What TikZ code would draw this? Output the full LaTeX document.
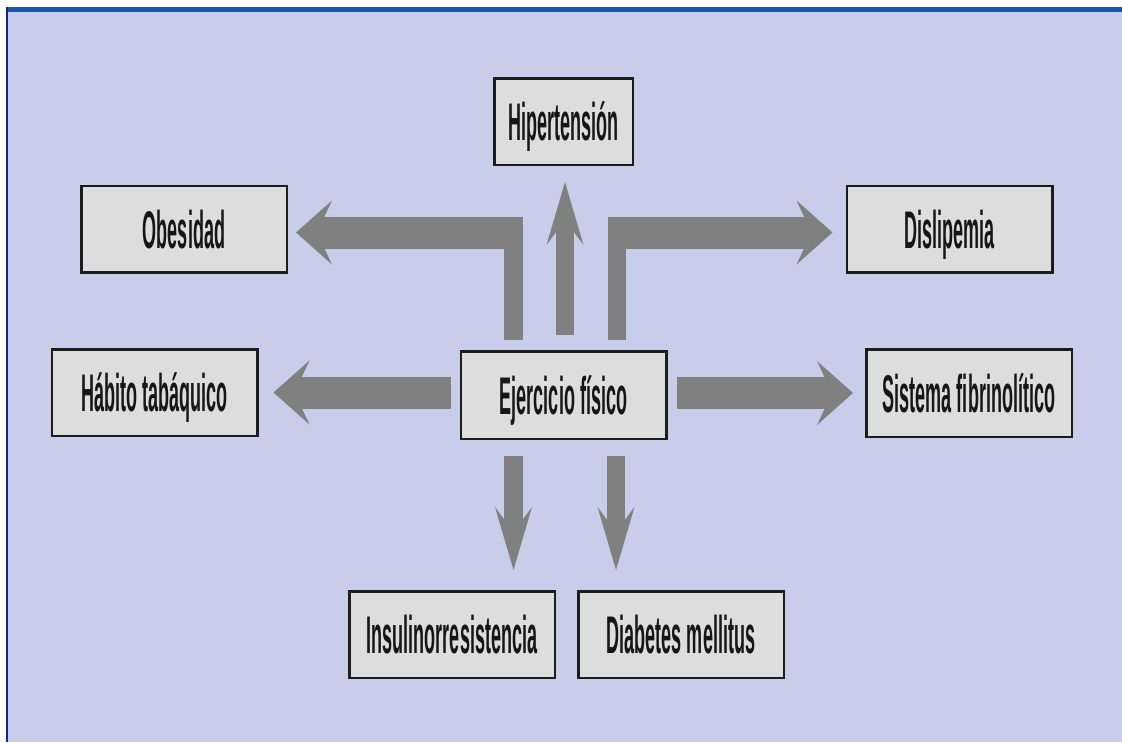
\documentclass[tikz,border=0pt]{standalone}
\usepackage{fontspec}
\usetikzlibrary{arrows.meta}
\newfontfamily\labfont{Liberation Sans}[FakeStretch=0.34]
\definecolor{bgblue}{RGB}{200,206,234}
\definecolor{topblue}{RGB}{30,86,162}
\definecolor{leftblue}{RGB}{14,42,138}
\definecolor{boxfill}{RGB}{221,221,221}
\definecolor{boxline}{RGB}{28,28,28}
\definecolor{arrgray}{RGB}{128,128,128}
\definecolor{txt}{RGB}{22,22,22}
\tikzset{
  box/.style={draw=boxline, line width=2.5pt, fill=boxfill, inner sep=0pt,
    minimum width=205.5pt, minimum height=86.5pt, text=txt,
    font=\labfont\bfseries\fontsize{53}{53}\selectfont,
    text height=38pt, text depth=0pt},
  hbar/.style={draw=arrgray, line width=32pt},
  vbarA/.style={draw=arrgray, line width=19pt},
  vbarB/.style={draw=arrgray, line width=18pt},
  widehead/.style={-{Stealth[length=36pt, width=64pt, inset=15pt, line width=0pt]}},
  narrowhead/.style={-{Stealth[length=63pt, width=37pt, inset=25pt, line width=0pt]}},
}
\begin{document}
\begin{tikzpicture}[x=1pt, y=-1pt]
\useasboundingbox (0,0) rectangle (1122,742);
\fill[white] (0,0) rectangle (1122,742);
\fill[bgblue] (8,11) rectangle (1122,742);
\fill[topblue] (6,7) rectangle (1122,11.5);
\fill[leftblue] (6,7) rectangle (8.2,742);

\node[box, minimum width=138.5pt] (hip) at (563.5,121.5) {Hipertensión};
\node[box] (obe) at (184,229) {Obesidad};
\node[box] (dis) at (949.5,229) {Dislipemia};
\node[box] (hab) at (154.5,392.5) {Hábito tabáquico};
\node[box, minimum height=87.5pt] (ej) at (563.5,395) {Ejercicio físico};
\node[box, minimum height=87.5pt] (sis) at (969,393) {Sistema fibrinolítico};
\node[box] (ins) at (452,634.5) {Insulinorresistencia};
\node[box] (dia) at (681,634.5) {Diabetes mellitus};

% up to Hipertension
\draw[vbarB, narrowhead, shorten <=15pt, shorten >=16pt]
  ([xshift=1.5pt]ej.north) -- ([xshift=1.5pt]ej.north |- hip.south);
% elbow to Obesidad
\draw[vbarA, shorten <=10pt] ([xshift=-50pt]ej.north) -- ++(0,-133);
\draw[hbar, widehead, shorten >=8pt]
  ([xshift=-40.5pt]ej.north |- 0,232.5) -- ([yshift=-3.5pt]obe.east);
% elbow to Dislipemia
\draw[vbarB, shorten <=10pt] ([xshift=53.5pt]ej.north) -- ++(0,-133);
\draw[hbar, widehead, shorten >=13pt]
  ([xshift=44.5pt]ej.north |- 0,232.5) -- ([yshift=-3.5pt]dis.west);
% left and right
\draw[hbar, widehead, shorten <=9pt, shorten >=15pt]
  (ej.west |- hab.east) -- (hab.east);
\draw[hbar, widehead, shorten <=9pt, shorten >=12pt]
  (ej.east |- sis.west) -- (sis.west);
% down
\draw[vbarA, narrowhead, shorten <=16pt, shorten >=20pt]
  ([xshift=-50pt]ej.south) -- ([xshift=-50pt]ej.south |- ins.north);
\draw[vbarB, narrowhead, shorten <=16pt, shorten >=20pt]
  ([xshift=52.5pt]ej.south) -- ([xshift=52.5pt]ej.south |- dia.north);
\end{tikzpicture}
\end{document}
